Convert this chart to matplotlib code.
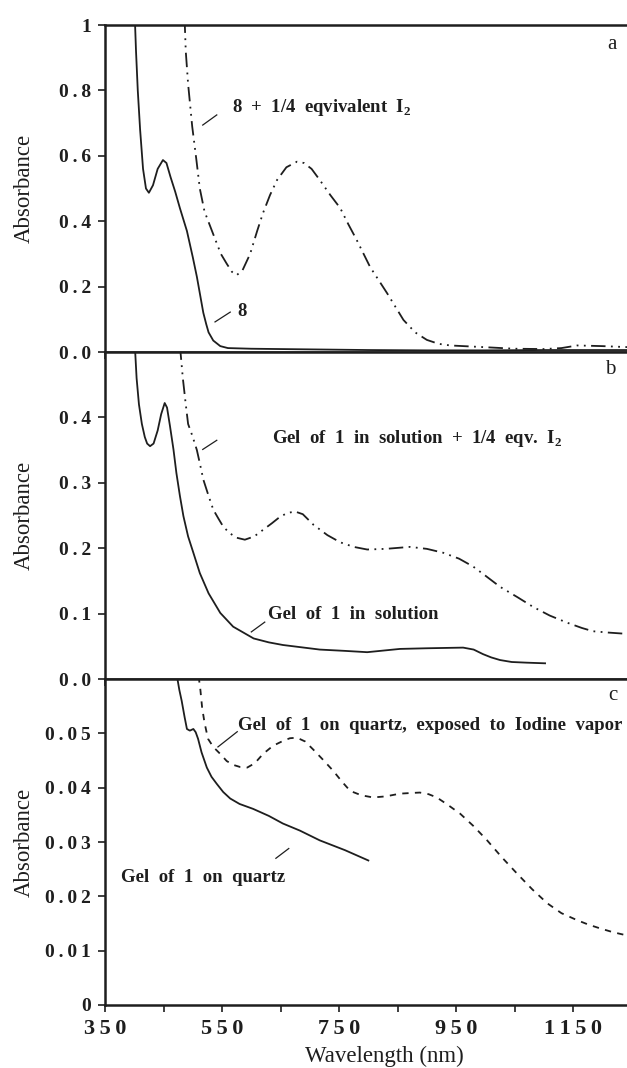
import matplotlib
matplotlib.use("Agg")
import matplotlib.pyplot as plt

plt.rcParams['font.family'] = ['Liberation Serif', 'DejaVu Serif']
plt.rcParams['mathtext.fontset'] = 'custom'
plt.rcParams['mathtext.rm'] = 'Liberation Serif:bold'
plt.rcParams['mathtext.bf'] = 'Liberation Serif:bold'

ink = '#1e1e1e'

# panel a : compound 8 and 8 + 1/4 eq. I2
a_wl = [401, 403, 406, 410, 415, 420, 425, 432, 440, 449, 455, 462, 470, 478, 490,
        500, 507, 513, 518, 523, 527, 535, 547, 560, 600, 700, 800, 900, 1000, 1100, 1242]
a_abs = [1.02, 0.92, 0.80, 0.68, 0.56, 0.50, 0.487, 0.51, 0.56, 0.587, 0.578, 0.535,
         0.49, 0.44, 0.37, 0.29, 0.23, 0.17, 0.12, 0.085, 0.06, 0.035, 0.018, 0.012,
         0.01, 0.008, 0.006, 0.005, 0.005, 0.006, 0.006]
a_i2_wl = [486, 488, 492, 499, 506, 512, 520, 535, 548, 558, 567, 575, 585, 598, 610,
           620, 632, 644, 660, 678, 690, 703, 717, 735, 752, 766, 780, 803, 832, 860,
           880, 900, 920, 940, 996, 1050, 1100, 1130, 1157, 1200, 1242]
a_i2_abs = [1.02, 0.92, 0.82, 0.69, 0.59, 0.50, 0.43, 0.36, 0.30, 0.27, 0.245, 0.235,
            0.25, 0.30, 0.37, 0.425, 0.48, 0.526, 0.565, 0.582, 0.578, 0.56, 0.526,
            0.48, 0.44, 0.39, 0.343, 0.26, 0.18, 0.098, 0.06, 0.037, 0.025, 0.02,
            0.015, 0.01, 0.009, 0.012, 0.02, 0.018, 0.015]

# panel b : gel of 1 in solution, with and without I2
b_wl = [401, 404, 408, 413, 418, 422, 427, 433, 440, 446, 452, 456, 461, 467, 472,
        478, 484, 492, 501, 512, 527, 547, 569, 604, 630, 654, 690, 717, 760,
        798, 854, 900, 962, 980, 996, 1010, 1025, 1045, 1070, 1102]
b_abs = [0.51, 0.46, 0.42, 0.39, 0.37, 0.36, 0.356, 0.36, 0.38, 0.405, 0.422, 0.415,
         0.387, 0.351, 0.315, 0.28, 0.249, 0.218, 0.193, 0.162, 0.131, 0.101, 0.080,
         0.062, 0.056, 0.052, 0.048, 0.045, 0.043, 0.041, 0.046,
         0.047, 0.048, 0.045, 0.038, 0.033, 0.029, 0.026, 0.025, 0.024]
b_i2_wl = [478, 483, 488, 492, 500, 507, 512, 518, 527, 535, 544, 552, 563, 575, 589,
           605, 620, 635, 649, 662, 675, 688, 706, 730, 752, 775, 798, 830, 871, 900,
           928, 955, 979, 1000, 1025, 1055, 1082, 1110, 1140, 1165, 1184, 1210, 1242]
b_i2_abs = [0.51, 0.46, 0.42, 0.39, 0.37, 0.35, 0.33, 0.305, 0.28, 0.259, 0.245,
            0.233, 0.223, 0.216, 0.213, 0.218, 0.228, 0.238, 0.248, 0.254, 0.256,
            0.252, 0.236, 0.22, 0.209, 0.202, 0.198, 0.199, 0.202, 0.199, 0.193,
            0.184, 0.172, 0.158, 0.141, 0.125, 0.11, 0.097, 0.086, 0.078, 0.073,
            0.071, 0.069]

# panel c : gel of 1 on quartz, before / after iodine vapour
c_wl = [473, 477, 481, 486, 490, 495, 501, 505, 509, 515, 524, 532, 541, 552, 564,
        580, 603, 630, 654, 683, 717, 760, 800]
c_abs = [0.0605, 0.058, 0.056, 0.053, 0.0508, 0.0505, 0.0508, 0.0502, 0.049, 0.0465,
         0.0437, 0.042, 0.0407, 0.0392, 0.038, 0.037, 0.0361, 0.0348, 0.0334, 0.0321,
         0.0303, 0.0285, 0.0266]
c_i2_wl = [510, 513, 516, 520, 526, 535, 547, 558, 569, 581, 593, 606, 620, 637, 654,
           666, 678, 692, 706, 722, 740, 755, 769, 788, 808, 830, 854, 870, 888, 903,
           917, 935, 957, 980, 1003, 1028, 1054, 1080, 1106, 1130, 1157, 1176, 1196,
           1218, 1242]
c_i2_abs = [0.0605, 0.058, 0.0547, 0.052, 0.049, 0.0475, 0.0462, 0.0449, 0.0442,
            0.0438, 0.0437, 0.0445, 0.0462, 0.0477, 0.0486, 0.0491, 0.0492, 0.0485,
            0.047, 0.0452, 0.0431, 0.0411, 0.0394, 0.0386, 0.0382, 0.0384, 0.0389,
            0.039, 0.0391, 0.0388, 0.0382, 0.0369, 0.0352, 0.0329, 0.0303, 0.0272,
            0.0242, 0.0213, 0.0187, 0.0169, 0.0156, 0.0148, 0.0141, 0.0134, 0.0128]

x_ticks = [350, 450, 550, 650, 750, 850, 950, 1050, 1150]
x_labels = ['350', '', '550', '', '750', '', '950', '', '1150']

a_ticks = [0, 0.2, 0.4, 0.6, 0.8, 1.0]
a_labels = ['0.0', '0.2', '0.4', '0.6', '0.8', '1']
b_ticks = [0, 0.1, 0.2, 0.3, 0.4]
b_labels = ['0.0', '0.1', '0.2', '0.3', '0.4']
c_ticks = [0, 0.01, 0.02, 0.03, 0.04, 0.05]
c_labels = ['0', '0.01', '0.02', '0.03', '0.04', '0.05']


def spaced(s):
    # the scanned figure prints its numbers letter-spaced
    return '\u2009'.join(s)


fig = plt.figure(figsize=(6.27, 10.68), dpi=100)
left = 105 / 627
w = 1 - left
ax_a = fig.add_axes([left, 0.67041, w, 0.97659 - 0.67041])
ax_b = fig.add_axes([left, 0.36423, w, 0.67041 - 0.36423])
ax_c = fig.add_axes([left, 0.05899, w, 0.36423 - 0.05899])

ddd = (0, (8, 3, 1, 3, 1, 3))
ax_a.plot(a_wl, a_abs, color=ink, lw=1.3)
ax_a.plot(a_i2_wl, a_i2_abs, color=ink, lw=1.3, linestyle=ddd)
ax_b.plot(b_wl, b_abs, color=ink, lw=1.3)
ax_b.plot(b_i2_wl, b_i2_abs, color=ink, lw=1.3, linestyle=ddd)
ax_c.plot(c_wl, c_abs, color=ink, lw=1.3)
ax_c.plot(c_i2_wl, c_i2_abs, color=ink, lw=1.3, linestyle=(0, (3.5, 3.5)))

setup = [(ax_a, (0, 1.0), a_ticks, a_labels),
         (ax_b, (0, 0.5), b_ticks, b_labels),
         (ax_c, (0, 0.06), c_ticks, c_labels)]
for ax, lim, yt, yl in setup:
    ax.set_xlim(350, 1242)
    ax.set_ylim(*lim)
    ax.set_yticks(yt)
    ax.set_yticklabels([spaced(s) for s in yl], fontweight='bold', fontsize=14, color=ink)
    ax.set_xticks(x_ticks)
    ax.spines['right'].set_visible(False)
    for s in ['left', 'top', 'bottom']:
        ax.spines[s].set_linewidth(1.8)
        ax.spines[s].set_color(ink)
    ax.tick_params(direction='out', length=5, width=1.2, color=ink, pad=5)
    ax.set_ylabel('Absorbance', fontsize=16.5, color=ink)
    ax.yaxis.set_label_coords(-0.135, 0.5)

ax_a.set_xticklabels([])
ax_b.set_xticklabels([])
ax_c.set_xticklabels([spaced(s) for s in x_labels], fontweight='bold', fontsize=16, color=ink)
ax_c.set_xlabel('Wavelength (nm)', fontsize=16.5, color=ink)
ax_c.xaxis.set_label_coords(0.535, -0.125)

txt = dict(fontsize=13.5, fontweight='bold', color=ink, va='center', ha='left')
lead = dict(color=ink, lw=0.9)

ax_a.text(567, 0.749, r'8  +  1/4  eqvivalent  I$_{\mathbf{2}}$', **txt)
ax_a.plot([517, 541], [0.694, 0.725], **lead)
ax_a.text(577, 0.125, '8', **txt)
ax_a.plot([538, 564], [0.092, 0.122], **lead)
ax_a.text(1217, 0.94, 'a', fontsize=15, color=ink, ha='center', va='center')

ax_b.text(635, 0.367, r'Gel  of  1  in  solution  +  1/4  eqv.  I$_{\mathbf{2}}$', **txt)
ax_b.plot([517, 541], [0.351, 0.365], **lead)
ax_b.text(629, 0.098, 'Gel  of  1  in  solution', **txt)
ax_b.plot([600, 623], [0.072, 0.087], **lead)
ax_b.text(1213, 0.474, 'b', fontsize=15, color=ink, ha='center', va='center')

ax_c.text(577, 0.0514, 'Gel  of  1  on  quartz,  exposed  to  Iodine  vapor', **txt)
ax_c.plot([543, 576], [0.0475, 0.0503], **lead)
ax_c.text(377, 0.0235, 'Gel  of  1  on  quartz', **txt)
ax_c.plot([642, 664], [0.027, 0.0288], **lead)
ax_c.text(1218, 0.0569, 'c', fontsize=15, color=ink, ha='center', va='center')

fig.savefig('out.png', dpi=100, facecolor='white')
